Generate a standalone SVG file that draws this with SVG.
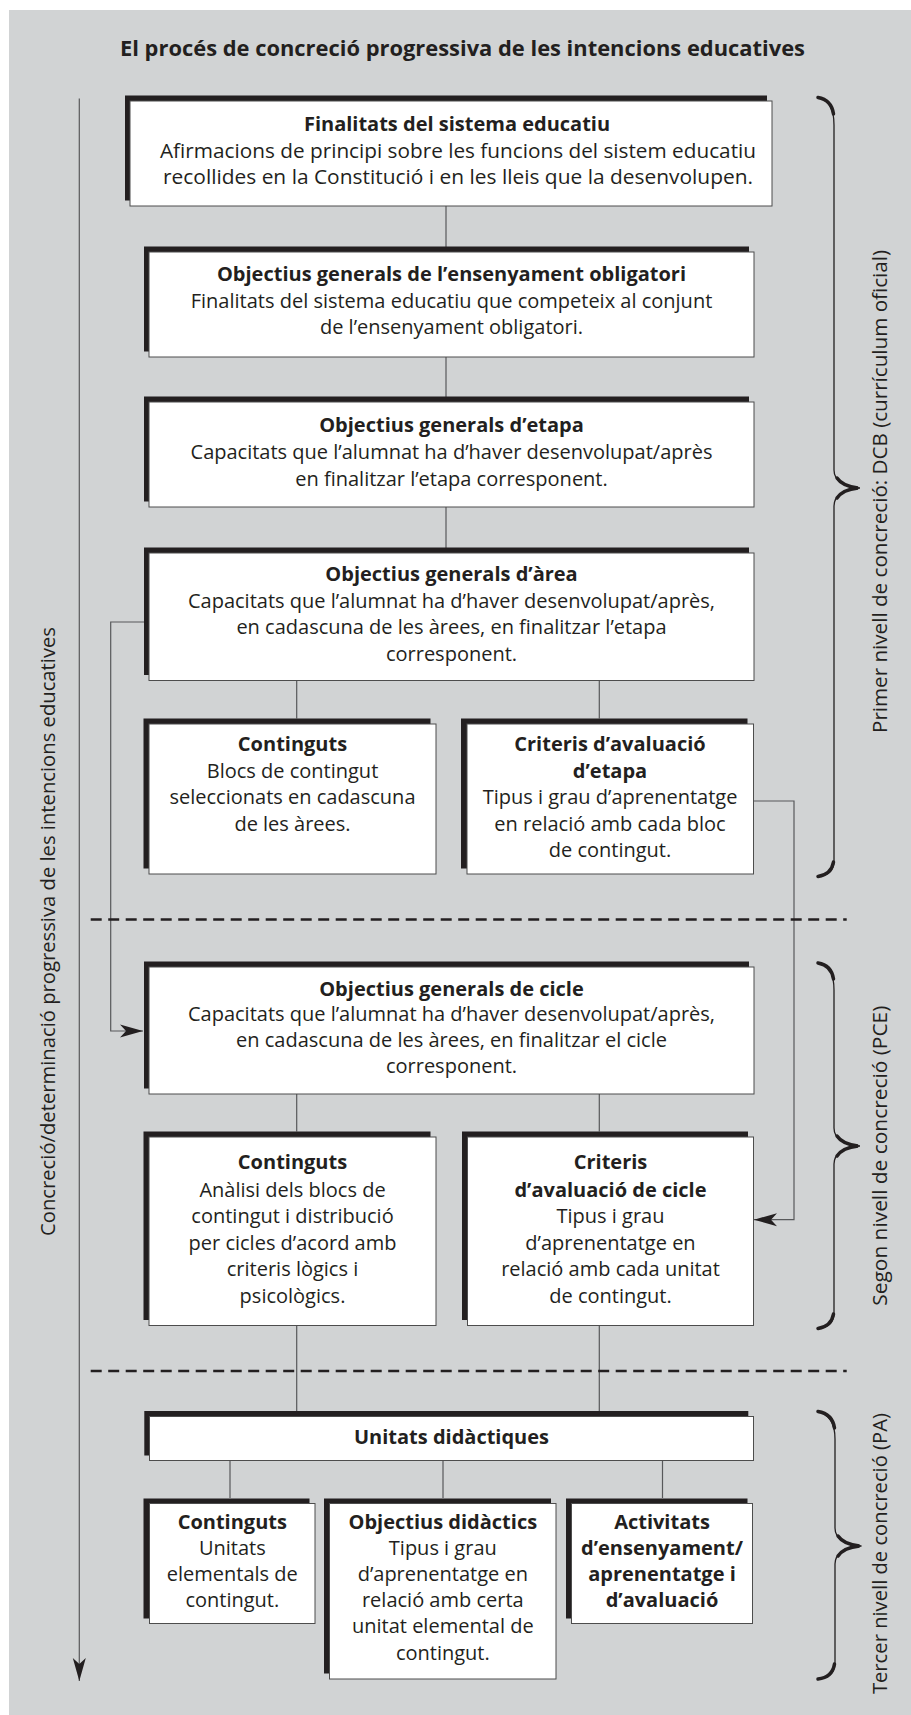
<svg xmlns="http://www.w3.org/2000/svg" width="911" height="1715" viewBox="0 0 911 1715">
<defs>
<style>
text{font-family:"Open Sans","Liberation Sans",sans-serif;fill:#231f20;}
.t{font-size:20px;text-anchor:middle;}
.b{font-weight:700;}
.title{font-size:21.5px;font-weight:700;text-anchor:middle;}
.rot{font-size:20px;text-anchor:middle;}
.sh{fill:#231f20;}
.bx{fill:#ffffff;stroke:#4d4d4d;stroke-width:1;}
.ln{fill:none;stroke:#58595b;stroke-width:1.2;}
.dash{fill:none;stroke:#231f20;stroke-width:2.5;stroke-dasharray:11 6.5;}
.br{fill:none;stroke:#231f20;stroke-width:1.3;}
.brk{fill:none;stroke:#231f20;stroke-width:3.5;stroke-linecap:round;}
</style>
<marker id="arr" viewBox="-24 -8 26 16" refX="0" refY="0" markerWidth="26" markerHeight="16" markerUnits="userSpaceOnUse" orient="auto">
<path d="M0,0 L-23,-6.5 L-17,0 L-23,6.5 Z" fill="#231f20"/>
</marker>
</defs>
<rect x="9" y="10" width="902" height="1705" fill="#d1d3d4"/>
<text class="title" x="462.5" y="56" textLength="685" lengthAdjust="spacingAndGlyphs">El procés de concreció progressiva de les intencions educatives</text>

<g id="connectors">
<path class="ln" d="M446,206 V252 M446,357 V402 M446,507 V553"/>
<path class="ln" d="M296.7,680.5 V718.5 M599.3,680.5 V718.5"/>
<path class="ln" d="M296.7,1094 V1131.5 M599.3,1094 V1131.5"/>
<path class="ln" d="M296.7,1325.5 V1411 M599.3,1325.5 V1411"/>
<path class="ln" d="M230,1460.5 V1498 M443,1460.5 V1498 M662.5,1460.5 V1498"/>
<path class="ln" d="M144,622 H110.7 V1031 H143" marker-end="url(#arr)"/>
<path class="ln" d="M753.5,801 H794 V1219.7 H754" marker-end="url(#arr)"/>
<path class="ln" d="M79.3,98.5 V1681" marker-end="url(#arr)"/>
</g>

<g id="separators">
<path class="dash" d="M90.7,919.5 H846.7"/>
<path class="dash" d="M90.7,1371 H846.7"/>
</g>

<g id="n1">
<rect class="sh" x="125" y="95.5" width="642" height="105"/>
<rect class="bx" x="130" y="101" width="642" height="105"/>
<text class="t b" x="457" y="131">Finalitats del sistema educatiu</text>
<text class="t" x="458" y="157.5" textLength="596" lengthAdjust="spacingAndGlyphs">Afirmacions de principi sobre les funcions del sistem educatiu</text>
<text class="t" x="458" y="184" textLength="590" lengthAdjust="spacingAndGlyphs">recollides en la Constitució i en les lleis que la desenvolupen.</text>
</g>
<g id="n2">
<rect class="sh" x="144" y="246.5" width="605" height="105"/>
<rect class="bx" x="149" y="252" width="605" height="105"/>
<text class="t b" x="451.5" y="281">Objectius generals de l’ensenyament obligatori</text>
<text class="t" x="451.5" y="308">Finalitats del sistema educatiu que competeix al conjunt</text>
<text class="t" x="451.5" y="334">de l’ensenyament obligatori.</text>
</g>
<g id="n3">
<rect class="sh" x="144" y="396.5" width="605" height="105"/>
<rect class="bx" x="149" y="402" width="605" height="105"/>
<text class="t b" x="451.5" y="432">Objectius generals d’etapa</text>
<text class="t" x="451.5" y="459">Capacitats que l’alumnat ha d’haver desenvolupat/après</text>
<text class="t" x="451.5" y="485.5">en finalitzar l’etapa corresponent.</text>
</g>
<g id="n4">
<rect class="sh" x="144" y="547.5" width="605" height="127.5"/>
<rect class="bx" x="149" y="553" width="605" height="127.5"/>
<text class="t b" x="451.5" y="581">Objectius generals d’àrea</text>
<text class="t" x="451.5" y="607.5">Capacitats que l’alumnat ha d’haver desenvolupat/après,</text>
<text class="t" x="451.5" y="634">en cadascuna de les àrees, en finalitzar l’etapa</text>
<text class="t" x="451.5" y="660.5">corresponent.</text>
</g>
<g id="n5a">
<rect class="sh" x="143.5" y="718.5" width="287" height="150"/>
<rect class="bx" x="149" y="724" width="287" height="150"/>
<text class="t b" x="292.5" y="751">Continguts</text>
<text class="t" x="292.5" y="778">Blocs de contingut</text>
<text class="t" x="292.5" y="804">seleccionats en cadascuna</text>
<text class="t" x="292.5" y="830.5">de les àrees.</text>
</g>
<g id="n5b">
<rect class="sh" x="461" y="718.5" width="286.5" height="150"/>
<rect class="bx" x="467" y="724" width="286.5" height="150"/>
<text class="t b" x="610" y="751">Criteris d’avaluació</text>
<text class="t b" x="610" y="778">d’etapa</text>
<text class="t" x="610" y="804">Tipus i grau d’aprenentatge</text>
<text class="t" x="610" y="830.5">en relació amb cada bloc</text>
<text class="t" x="610" y="857">de contingut.</text>
</g>
<g id="n6">
<rect class="sh" x="144" y="961.5" width="605" height="127"/>
<rect class="bx" x="149" y="967" width="605" height="127"/>
<text class="t b" x="451.5" y="995.5">Objectius generals de cicle</text>
<text class="t" x="451.5" y="1021">Capacitats que l’alumnat ha d’haver desenvolupat/après,</text>
<text class="t" x="451.5" y="1047">en cadascuna de les àrees, en finalitzar el cicle</text>
<text class="t" x="451.5" y="1073">corresponent.</text>
</g>
<g id="n7a">
<rect class="sh" x="143.5" y="1131.5" width="287" height="188.5"/>
<rect class="bx" x="149" y="1137" width="287" height="188.5"/>
<text class="t b" x="292.5" y="1169">Continguts</text>
<text class="t" x="292.5" y="1197">Anàlisi dels blocs de</text>
<text class="t" x="292.5" y="1223">contingut i distribució</text>
<text class="t" x="292.5" y="1249.5">per cicles d’acord amb</text>
<text class="t" x="292.5" y="1276">criteris lògics i</text>
<text class="t" x="292.5" y="1302.5">psicològics.</text>
</g>
<g id="n7b">
<rect class="sh" x="462" y="1131.5" width="286" height="188.5"/>
<rect class="bx" x="467.5" y="1137" width="286" height="188.5"/>
<text class="t b" x="610.5" y="1169">Criteris</text>
<text class="t b" x="610.5" y="1197">d’avaluació de cicle</text>
<text class="t" x="610.5" y="1223">Tipus i grau</text>
<text class="t" x="610.5" y="1249.5">d’aprenentatge en</text>
<text class="t" x="610.5" y="1276">relació amb cada unitat</text>
<text class="t" x="610.5" y="1302.5">de contingut.</text>
</g>
<g id="n8">
<rect class="sh" x="144.3" y="1411" width="604" height="44.5"/>
<rect class="bx" x="149.5" y="1416.5" width="604" height="44"/>
<text class="t b" x="451.5" y="1444">Unitats didàctiques</text>
</g>
<g id="n9a">
<rect class="sh" x="143.5" y="1498.5" width="166" height="120"/>
<rect class="bx" x="149.5" y="1503.5" width="165.5" height="120"/>
<text class="t b" x="232.3" y="1529">Continguts</text>
<text class="t" x="232.3" y="1555">Unitats</text>
<text class="t" x="232.3" y="1581">elementals de</text>
<text class="t" x="232.3" y="1607">contingut.</text>
</g>
<g id="n9b">
<rect class="sh" x="324" y="1498.5" width="227" height="175"/>
<rect class="bx" x="329.5" y="1503.5" width="226.5" height="175.5"/>
<text class="t b" x="442.8" y="1529">Objectius didàctics</text>
<text class="t" x="442.8" y="1555">Tipus i grau</text>
<text class="t" x="442.8" y="1581">d’aprenentatge en</text>
<text class="t" x="442.8" y="1607">relació amb certa</text>
<text class="t" x="442.8" y="1633">unitat elemental de</text>
<text class="t" x="442.8" y="1659.5">contingut.</text>
</g>
<g id="n9c">
<rect class="sh" x="566" y="1498.5" width="181.5" height="120"/>
<rect class="bx" x="571.5" y="1503.5" width="181" height="120"/>
<text class="t b" x="662" y="1529">Activitats</text>
<text class="t b" x="662" y="1555">d’ensenyament/</text>
<text class="t b" x="662" y="1581">aprenentatge i</text>
<text class="t b" x="662" y="1607">d’avaluació</text>
</g>

<g id="braces">
<path class="br" d="M817,97 C830,100 834,110 834,125 L834,470 C834,481 845,487 860,488 C845,489 834,495 834,506 L834,860 C834,870 830,875 817,877"/>
<path class="brk" d="M818,97.5 C827,99 832,104 833.5,114"/>
<path class="brk" d="M837,478 C841,484 849,487 858,488 C849,489 841,492 837,498"/>
<path class="brk" d="M833.5,862 C832,871 827,875 818,876.5"/>
<path class="br" d="M817,962.5 C830,965 834,975 834,990 L834,1128 C834,1139 845,1145 860,1146 C845,1147 834,1153 834,1164 L834,1312 C834,1322 830,1327 817,1329"/>
<path class="brk" d="M818,963 C827,964.5 832,969 833.5,979"/>
<path class="brk" d="M837,1136 C841,1142 849,1145 858,1146 C849,1147 841,1150 837,1156"/>
<path class="brk" d="M833.5,1314 C832,1323 827,1327 818,1328.5"/>
<path class="br" d="M817,1411 C830,1414 835,1424 835,1439 L835,1528 C835,1539 846,1545 861.5,1546 C846,1547 835,1553 835,1564 L835,1662 C835,1672 831,1677 817,1679.5"/>
<path class="brk" d="M818,1411.5 C827,1413 833,1418 834.5,1428"/>
<path class="brk" d="M838,1536 C842,1542 850,1545 859.5,1546 C850,1547 842,1550 838,1556"/>
<path class="brk" d="M834.5,1664 C833,1673 828,1678 818,1679"/>
</g>

<g id="side-labels">
<text class="rot" transform="translate(55,931.5) rotate(-90)" textLength="609" lengthAdjust="spacingAndGlyphs">Concreció/determinació progressiva de les intencions educatives</text>
<text class="rot" transform="translate(887,491.5) rotate(-90)" textLength="483" lengthAdjust="spacingAndGlyphs">Primer nivell de concreció: DCB (currículum oficial)</text>
<text class="rot" transform="translate(887,1155.7) rotate(-90)" textLength="300" lengthAdjust="spacingAndGlyphs">Segon nivell de concreció (PCE)</text>
<text class="rot" transform="translate(887,1553.6) rotate(-90)" textLength="281" lengthAdjust="spacingAndGlyphs">Tercer nivell de concreció (PA)</text>
</g>
</svg>
